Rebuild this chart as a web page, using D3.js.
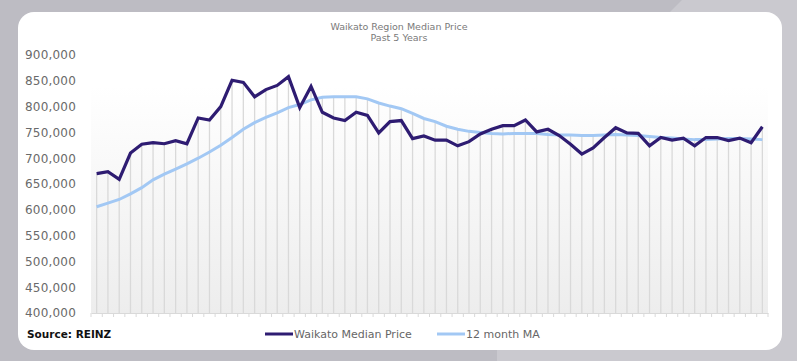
<!DOCTYPE html>
<html lang="en">
  <head>
    <meta charset="UTF-8" />
    <title>Waikato Region Median Price</title>
    <script src="https://d3js.org/d3.v7.min.js"></script>
    <style>
      body {
        margin: 0;
        background: #bdbcc3;
      }
      svg text {
        font-family: "DejaVu Sans", sans-serif;
      }
    </style>
  </head>
  <body>
    <div id="chart"></div>
    <script>
      // monthly median price, last 5 years
      const medianPrice = [
        670000, 674000, 659000, 710000, 727000, 730000, 728000, 734000, 728000, 778000,
        774000, 800000, 851000, 847000, 819000, 833000, 841000, 858000, 798000, 839000,
        789000, 778000, 773000, 789000, 783000, 749000, 771000, 773000, 738000, 743000,
        735000, 735000, 724000, 732000, 747000, 756000, 763000, 763000, 774000, 751000,
        756000, 744000, 727000, 708000, 720000, 740000, 759000, 749000, 748000, 724000,
        740000, 735000, 739000, 724000, 740000, 740000, 734000, 739000, 730000, 761000
      ];
      const movingAvg = [
        606000, 613000, 620000, 631000, 643000, 658000, 669000, 679000, 689000, 700000,
        712000, 725000, 740000, 756000, 769000, 779000, 788000, 798000, 804000, 813000,
        818000, 819000, 819000, 819000, 815000, 807000, 801000, 796000, 787000, 777000,
        771000, 762000, 756000, 752000, 750000, 748000, 747000, 748000, 748000, 748000,
        746000, 745000, 745000, 744000, 744000, 745000, 746000, 745000, 744000, 742000,
        740000, 739000, 737000, 736000, 736000, 737000, 738000, 738000, 737000, 736000
      ];
      const yTicks = [400000, 450000, 500000, 550000, 600000, 650000, 700000, 750000, 800000, 850000, 900000];
      const seriesNames = ["Waikato Median Price", "12 month MA"];
      const seriesColors = ["#2e1c72", "#a2c8f4"];

      const W = 797, H = 361;
      const plot = {left: 91, right: 768, top: 55, bottom: 313};

      const svg = d3.select("#chart").append("svg").attr("width", W).attr("height", H);

      // backdrop with lighter panel on the right
      svg.append("rect").attr("width", W).attr("height", H).attr("fill", "#bdbcc3");
      svg.append("path")
        .attr("d", "M682,0 L797,0 L797,361 L497,361 L497,345 L670,12 Z")
        .attr("fill", "#cac9cf");

      // white card
      svg.append("rect")
        .attr("x", 18).attr("y", 12)
        .attr("width", 764).attr("height", 338)
        .attr("rx", 16)
        .attr("fill", "#ffffff");

      const defs = svg.append("defs");
      const grad = defs.append("linearGradient")
        .attr("id", "plotGrad")
        .attr("x1", 0).attr("y1", 0).attr("x2", 0).attr("y2", 1);
      grad.append("stop").attr("offset", "0%").attr("stop-color", "#ffffff");
      grad.append("stop").attr("offset", "12%").attr("stop-color", "#ffffff");
      grad.append("stop").attr("offset", "100%").attr("stop-color", "#ededed");

      const idx = d3.range(medianPrice.length);

      const x = d3.scaleBand()
        .domain(idx)
        .range([plot.left, plot.right]);

      const y = d3.scaleLinear()
        .domain([400000, 900000])
        .range([plot.bottom, plot.top]);

      const cx = (i) => x(i) + x.bandwidth() / 2;

      // plot background
      svg.append("rect")
        .attr("x", plot.left).attr("y", y(900000))
        .attr("width", plot.right - plot.left)
        .attr("height", plot.bottom - y(900000))
        .attr("fill", "url(#plotGrad)");

      // drop lines from the higher series to the axis
      svg.append("g")
        .selectAll("line")
        .data(idx)
        .join("line")
        .attr("x1", (i) => cx(i))
        .attr("x2", (i) => cx(i))
        .attr("y1", plot.bottom)
        .attr("y2", (i) => y(Math.max(medianPrice[i], movingAvg[i])))
        .attr("stroke", "#d9d9d9")
        .attr("stroke-width", 1.3);

      // x axis: tick marks on band edges, no labels
      const xAxis = svg.append("g")
        .attr("transform", `translate(0,${plot.bottom})`)
        .call(d3.axisBottom(x).tickSize(0).tickFormat(""));
      xAxis.select(".domain").attr("stroke", "#d9d9d9");
      xAxis.selectAll(".tick").remove();
      xAxis.selectAll(".edge")
        .data(d3.range(medianPrice.length + 1))
        .join("line")
        .attr("x1", (i) => plot.left + i * x.step())
        .attr("x2", (i) => plot.left + i * x.step())
        .attr("y1", 0).attr("y2", 4)
        .attr("stroke", "#d9d9d9");

      // y axis labels
      const yAxis = svg.append("g")
        .attr("transform", `translate(${plot.left - 12},0)`)
        .call(d3.axisLeft(y).tickValues(yTicks).tickSize(0).tickFormat(d3.format(",")));
      yAxis.select(".domain").remove();
      yAxis.selectAll("text")
        .attr("fill", "#6a6a6a")
        .attr("font-size", "12px")
        .attr("letter-spacing", "0.2px")
        .attr("dx", 0);

      // series lines
      const line = (vals) => d3.line().x((d, i) => cx(i)).y((d) => y(d))(vals);

      svg.append("path")
        .attr("d", line(movingAvg))
        .attr("fill", "none")
        .attr("stroke", seriesColors[1])
        .attr("stroke-width", 3);

      svg.append("path")
        .attr("d", line(medianPrice))
        .attr("fill", "none")
        .attr("stroke", seriesColors[0])
        .attr("stroke-width", 3.2)
        .attr("stroke-linejoin", "miter");

      // title
      svg.append("text")
        .attr("x", 399).attr("y", 30)
        .attr("text-anchor", "middle")
        .attr("font-size", "9.5px")
        .attr("fill", "#7a7a7a")
        .text("Waikato Region Median Price");
      svg.append("text")
        .attr("x", 399).attr("y", 41)
        .attr("text-anchor", "middle")
        .attr("font-size", "9.5px")
        .attr("fill", "#7a7a7a")
        .text("Past 5 Years");

      // source
      svg.append("text")
        .attr("x", 27).attr("y", 338)
        .attr("font-family", "Inter, sans-serif")
        .attr("font-weight", "bold")
        .attr("font-size", "10.5px")
        .attr("fill", "#111")
        .text("Source: REINZ");

      // legend
      const legendX = [265, 437];
      const legend = svg.append("g")
        .selectAll("g")
        .data(seriesNames)
        .join("g")
        .attr("transform", (d, i) => `translate(${legendX[i]},334)`);
      legend.append("line")
        .attr("x1", 0).attr("x2", 28)
        .attr("stroke", (d, i) => seriesColors[i])
        .attr("stroke-width", 3);
      legend.append("text")
        .attr("x", 29).attr("y", 4)
        .attr("font-family", "Inter, sans-serif")
        .attr("font-size", "11px")
        .attr("fill", "#666")
        .text((d) => d);
    </script>
  </body>
</html>
